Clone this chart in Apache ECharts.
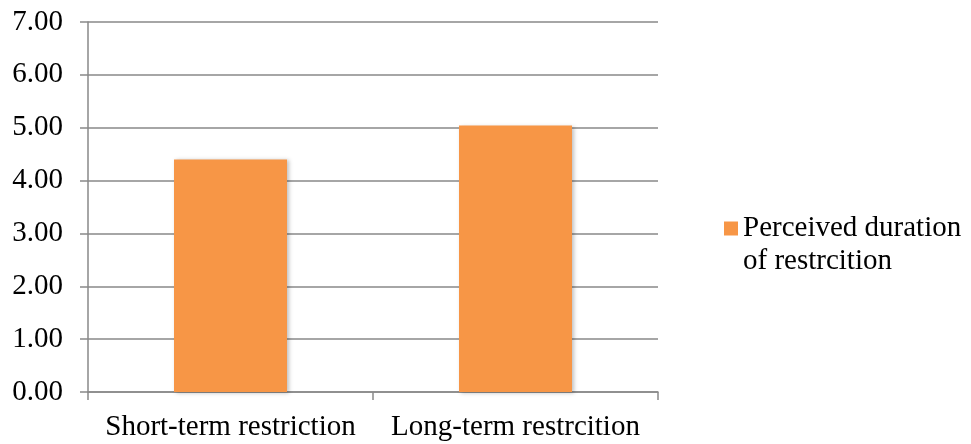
<!DOCTYPE html>
<html>
<head>
<meta charset="utf-8">
<script src="https://cdn.jsdelivr.net/npm/echarts@6/dist/echarts.min.js"></script>
<style>
  html, body { margin: 0; padding: 0; background: #fff; }
  #chart { width: 971px; height: 444px; }
</style>
</head>
<body>
<div id="chart"></div>
<script>
// Mean perceived duration per restriction type
const categories = ['Short-term restriction', 'Long-term restrcition'];
const seriesName = 'Perceived duration of restrcition';
const values = [4.40, 5.04];
const yTicks = { min: 0, max: 7, interval: 1 };

const font = '"Liberation Serif", "Times New Roman", serif';
const gray = '#898989';

const chart = echarts.init(document.getElementById('chart'));
chart.setOption({
  animation: false,
  backgroundColor: '#fff',
  grid: { left: 88, right: 313, top: 22, bottom: 52, containLabel: false },
  legend: {
    left: 724, top: 179, padding: 0,
    itemWidth: 14, itemHeight: 14, itemGap: 8,
    icon: 'rect',
    // leading blank line keeps the square level with the first text line
    formatter: () => ' \nPerceived duration\nof restrcition',
    textStyle: {
      fontFamily: font, fontSize: 29, color: '#000', lineHeight: 33
    },
    data: [seriesName]
  },
  xAxis: {
    type: 'category',
    data: categories,
    axisLine: { lineStyle: { color: gray, width: 1.5 } },
    axisTick: { show: true, length: 8, interval: 0, lineStyle: { color: gray, width: 1.5 } },
    axisLabel: { interval: 0, fontFamily: font, fontSize: 29, color: '#000', margin: 21 },
    splitLine: { show: false }
  },
  yAxis: {
    type: 'value',
    min: yTicks.min, max: yTicks.max, interval: yTicks.interval,
    axisLine: { show: true, lineStyle: { color: gray, width: 1.5 } },
    axisTick: { show: true, length: 8, lineStyle: { color: gray, width: 1.5 } },
    axisLabel: {
      fontFamily: font, fontSize: 29, color: '#000', margin: 25,
      formatter: v => v.toFixed(2)
    },
    splitLine: { lineStyle: { color: gray, width: 1.5 } }
  },
  series: [{
    name: seriesName,
    type: 'bar',
    data: values,
    barWidth: 113,
    itemStyle: {
      color: '#F79646',
      shadowColor: 'rgba(0,0,0,0.25)',
      shadowBlur: 4,
      shadowOffsetX: 2,
      shadowOffsetY: 1
    }
  }]
});
</script>
</body>
</html>
